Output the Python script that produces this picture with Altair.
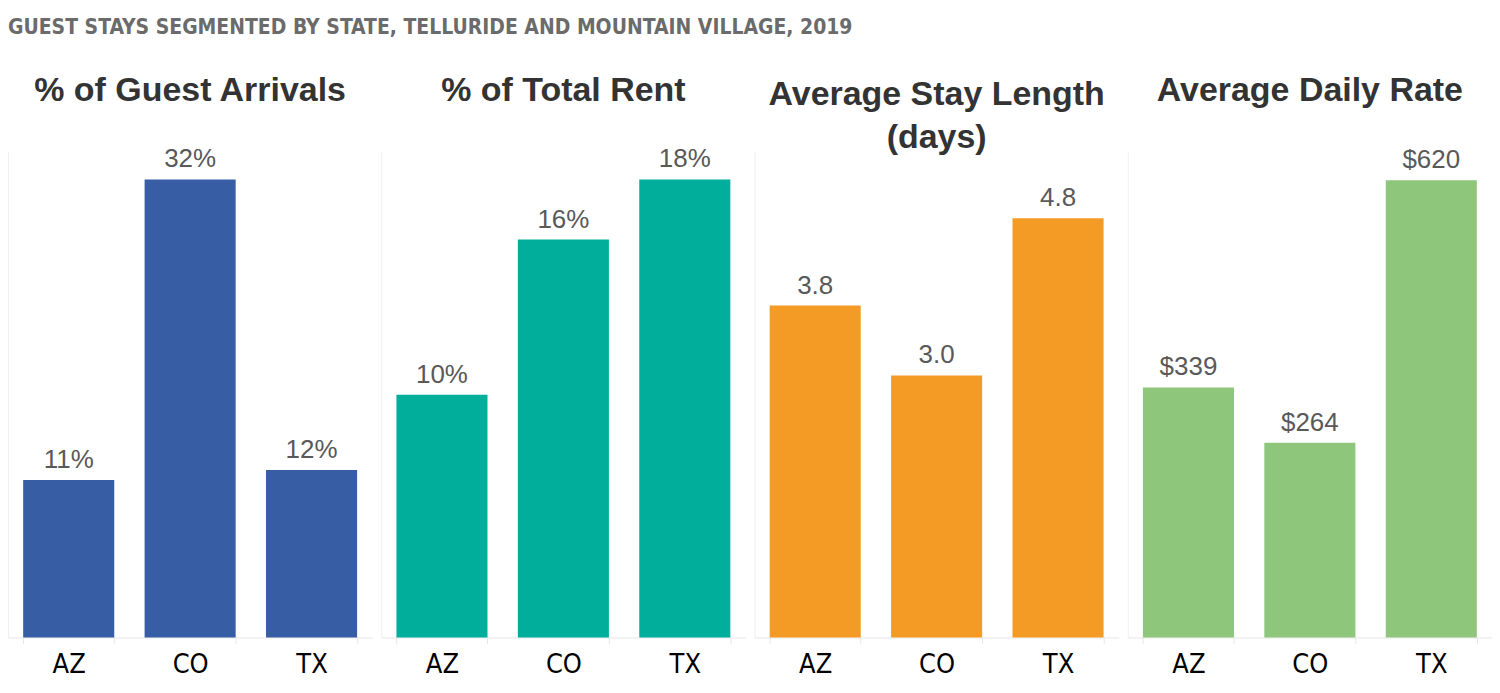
import altair as alt
import pandas as pd

states = ["AZ", "CO", "TX"]
arrivals_pct = [11.0, 32.0, 11.7]
rent_pct = [9.7, 15.9, 18.3]
stay_days = [3.8, 3.0, 4.8]
daily_rate = [339, 264, 620]

panel_titles = [
    ["% of Guest Arrivals", "\u00a0"],
    ["% of Total Rent", "\u00a0"],
    ["Average Stay Length", "(days)"],
    ["Average Daily Rate", "\u00a0"],
]
panel_values = [arrivals_pct, rent_pct, stay_days, daily_rate]
panel_colors = ["#375DA4", "#00AE9B", "#F49B26", "#8EC77B"]
panel_labels = [
    "format(datum.v, '.0f') + '%'",
    "format(datum.v, '.0f') + '%'",
    "format(datum.v, '.1f')",
    "'$' + format(datum.v, '.0f')",
]
panel_ymax = [33.96, 19.42, 5.566, 659]

MAIN_FONT = "Liberation Sans, Arial, sans-serif"
NARROW_FONT = "Liberation Sans Narrow, Arial Narrow, DejaVu Sans Condensed, sans-serif"


def make_panel(title, values, color, label_expr, ymax):
    df = pd.DataFrame({"state": states, "v": values})
    base = alt.Chart(df).encode(
        x=alt.X(
            "state:N",
            sort=states,
            scale=alt.Scale(paddingInner=0.25, paddingOuter=0.125),
            axis=alt.Axis(
                title=None,
                labelAngle=0,
                labelFontSize=27,
                labelFont=NARROW_FONT,
                labelColor="#000000",
                labelPadding=8,
                domainColor="#e6e6e6",
                tickColor="#e6e6e6",
                tickSize=6,
                tickBand="extent",
            ),
        ),
        y=alt.Y(
            "v:Q",
            scale=alt.Scale(domain=[0, ymax], nice=False, zero=True),
            axis=alt.Axis(
                title=None,
                labels=False,
                ticks=False,
                grid=False,
                domainColor="#f0f0f0",
                minExtent=0,
                maxExtent=0,
            ),
        ),
    )
    bars = base.mark_bar(color=color)
    text = base.transform_calculate(label=label_expr).mark_text(
        baseline="bottom", dy=-7, fontSize=26, color="#595959", font=MAIN_FONT
    ).encode(text="label:N")
    return alt.layer(bars, text).properties(
        width=365,
        height=487,
        title=alt.TitleParams(
            text=title,
            font=MAIN_FONT,
            fontSize=34,
            fontWeight="bold",
            color="#333333",
            anchor="middle",
            lineHeight=43,
            offset=-4,
        ),
    )


panels = [
    make_panel(t, v, c, l, m)
    for t, v, c, l, m in zip(panel_titles, panel_values, panel_colors, panel_labels, panel_ymax)
]

chart = (
    alt.hconcat(*panels, spacing=9)
    .properties(
        title=alt.TitleParams(
            text="GUEST STAYS SEGMENTED BY STATE, TELLURIDE AND MOUNTAIN VILLAGE, 2019",
            font=NARROW_FONT,
            fontSize=21,
            fontWeight="bold",
            color="#6b6b6b",
            anchor="start",
            offset=36,
        ),
        padding={"left": 0, "top": 8, "right": 0, "bottom": 0},
    )
    .configure_view(stroke=None)
)

chart.save("out.html", embed_options={"renderer": "svg", "actions": False})
